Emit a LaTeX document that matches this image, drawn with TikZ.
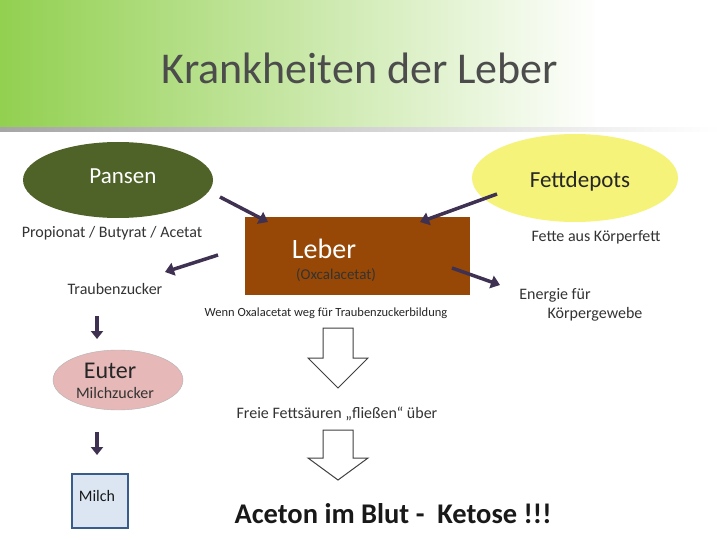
\documentclass[tikz,border=0pt]{standalone}
\usepackage{fontspec}
\setmainfont{Carlito}
\usetikzlibrary{shapes.geometric,arrows.meta}
\definecolor{arrc}{HTML}{3F3151}
\definecolor{bgreen}{HTML}{92D050}
\definecolor{pans}{HTML}{4F6228}
\definecolor{fettc}{HTML}{F5F37A}
\definecolor{leb}{HTML}{974806}
\definecolor{eut}{HTML}{E6B9B8}
\definecolor{milc}{HTML}{DCE6F2}
\definecolor{milb}{HTML}{385D8A}
\begin{document}
\begin{tikzpicture}[x=1pt,y=-1pt,
  arr/.style={draw=arrc,line width=3.5pt,-{Triangle[length=9pt,width=13pt]}},
  sarr/.style={draw=arrc,line width=3.5pt,-{Triangle[length=8pt,width=12pt]}},
  blk/.style={draw=black!75,line width=1pt,fill=white,line join=miter},
  lbl/.style={text=black!80,font=\fontsize{16}{18}\selectfont}]
\useasboundingbox (0,0) rectangle (720,540);
\fill[white] (0,0) rectangle (720,540);
\shade[left color=bgreen,right color=white] (0,0) rectangle (600,128);
\shade[left color=gray!70,right color=white] (0,128) rectangle (720,132);
\node[text=black!70,font=\fontsize{44}{46}\selectfont] (title) at (360,68) {Krankheiten der Leber};
\node[ellipse,fill=pans,minimum width=190pt,minimum height=76pt] (pansen) at (118,180) {};
\node[text=white,font=\fontsize{23}{25}\selectfont] (pt) at (123,176) {Pansen};
\node[ellipse,fill=fettc,minimum width=206pt,minimum height=88pt] (fett) at (575,178) {};
\node[text=black!85,font=\fontsize{23}{25}\selectfont] (ft) at (580,181) {Fettdepots};
\node[lbl] (prop) at (112,233) {Propionat / Butyrat / Acetat};
\node[fill=leb,minimum width=225pt,minimum height=77pt] (leber) at (357,256) {};
\node[text=white,font=\fontsize{28}{30}\selectfont] (lt) at (324,249) {Leber};
\node[text=black!80,font=\fontsize{15}{17}\selectfont] (ox) at (336,275) {(Oxcalacetat)};
\node[lbl] (fak) at (596,237) {Fette aus Körperfett};
\node[lbl] (tz) at (115,289) {Traubenzucker};
\node[lbl] (en1) at (555,295) {Energie für};
\node[lbl] (en2) at (595,314) {Körpergewebe};
\node[text=black!85,font=\fontsize{12.5}{14}\selectfont] (wenn) at (326,313) {Wenn Oxalacetat weg für Traubenzuckerbildung};
\coordinate (a1) at (220,197); \coordinate (a1e) at (268,222);
\coordinate (a2) at (497,194); \coordinate (a2e) at (420,222);
\coordinate (a3) at (218,255); \coordinate (a3e) at (165,272);
\coordinate (a4) at (452,268); \coordinate (a4e) at (500,285);
\draw[arr] (a1) -- (a1e); \draw[arr] (a2) -- (a2e);
\draw[arr] (a3) -- (a3e); \draw[arr] (a4) -- (a4e);
\coordinate (d1) at (97,316); \coordinate (d1e) at (97,339);
\coordinate (d2) at (97,432); \coordinate (d2e) at (97,455);
\draw[sarr] (d1) -- (d1e); \draw[sarr] (d2) -- (d2e);
\node[ellipse,fill=eut,draw=gray!60,minimum width=130pt,minimum height=60pt] (euter) at (118,380) {};
\node[text=black!85,font=\fontsize{24}{26}\selectfont] (et) at (110,371) {Euter};
\node[lbl] (mz) at (115,393) {Milchzucker};
\draw[blk] (323,328) -- (353,328) -- (353,358) -- (368,358) -- (338,388) -- (308,358) -- (323,358) -- cycle;
\node[lbl] (ff) at (337,414) {Freie Fettsäuren „fließen“ über};
\draw[blk] (323,430) -- (353,430) -- (353,458) -- (368,458) -- (338,480) -- (308,458) -- (323,458) -- cycle;
\node[fill=milc,draw=milb,line width=2pt,minimum width=56pt,minimum height=54pt] (milch) at (100,501) {};
\node[lbl,text=black!90] (mt) at (97,496) {Milch};
\node[text=black!90,font=\bfseries\fontsize{28.5}{30}\selectfont] (ket) at (393,514) {Aceton im Blut -\ \ Ketose !!!};
\end{tikzpicture}
\end{document}
